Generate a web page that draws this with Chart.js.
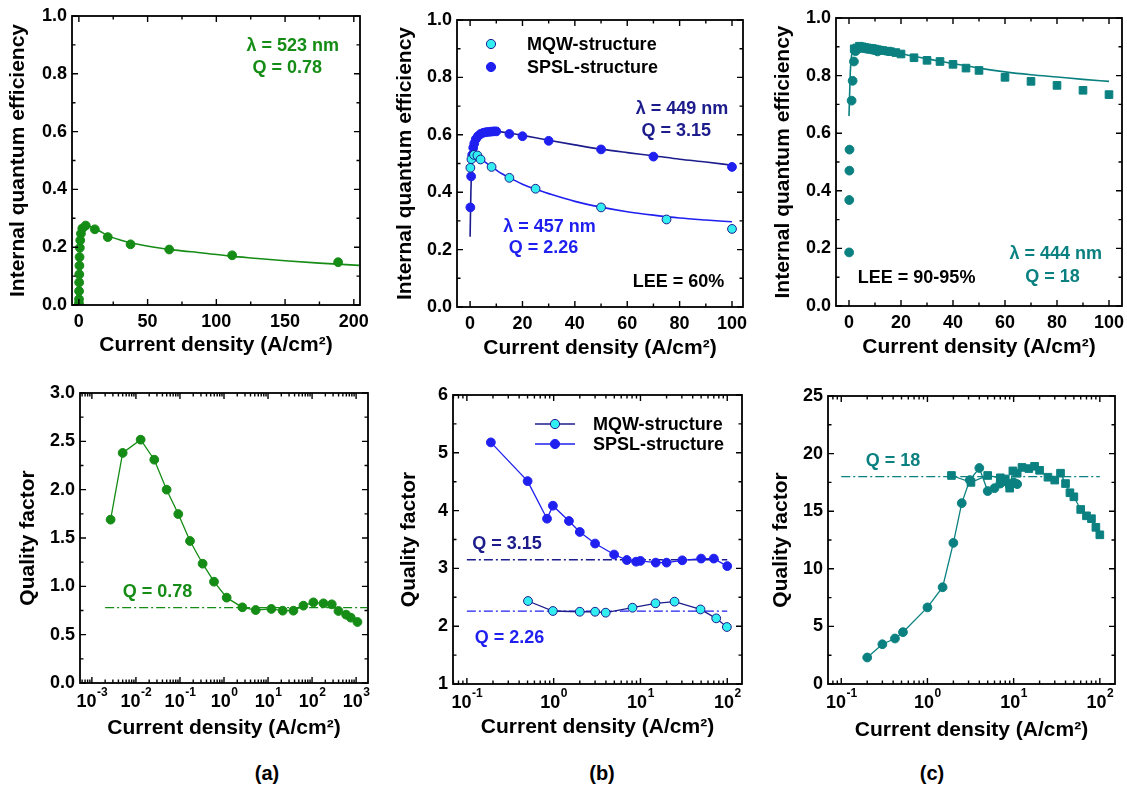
<!DOCTYPE html>
<html>
<head>
<meta charset="utf-8">
<script src="https://cdn.jsdelivr.net/npm/chart.js@4.4.1/dist/chart.umd.min.js"></script>
<style>
  body { margin: 0; background: #fff; width: 1127px; height: 788px; position: relative; overflow: hidden;
         font-family: "Liberation Sans", Arial, sans-serif; }
  canvas { position: absolute; }
  .lab { position: absolute; font-weight: bold; font-size: 20px; transform: translate(-50%, -50%); }
</style>
</head>
<body>
<canvas id="c1"></canvas>
<canvas id="c2"></canvas>
<canvas id="c3"></canvas>
<canvas id="c4"></canvas>
<canvas id="c5"></canvas>
<canvas id="c6"></canvas>
<div class="lab" style="left:267px;top:773px">(a)</div>
<div class="lab" style="left:602px;top:773px">(b)</div>
<div class="lab" style="left:932px;top:773px">(c)</div>
<script>
const FONT = '"Liberation Sans", Arial, sans-serif';
const GREEN = '#158c15', TEAL = '#0b8080', NAVY = '#1c1c8c', BLUE = '#1f1ff0', CYAN = '#33eef0';
const TITLE_PX = 21, TICK_PX = 18, NOTE_PX = 18;

// ---- (a) top: IQE vs J, 523 nm
const aIqeTicksX = [0, 50, 100, 150, 200];
const iqeTicksY = [0, 0.2, 0.4, 0.6, 0.8, 1.0];
const aIqePts = [[0.05,0.006],[0.1,0.02],[0.15,0.048],[0.2,0.078],[0.3,0.106],[0.4,0.136],[0.5,0.166],
  [0.7,0.198],[1.0,0.224],[1.5,0.247],[2.5,0.265],[5,0.275],[11.6,0.262],[21,0.235],[37.6,0.21],
  [65.7,0.192],[111.5,0.172],[188.6,0.148]];
const aIqeFit = [[0,0],[0.5,0.15],[1,0.22],[2,0.255],[3.5,0.27],[6,0.274],[10,0.268],[15,0.256],[21,0.24],
  [30,0.225],[40,0.213],[55,0.2],[70,0.19],[90,0.18],[110,0.169],[130,0.161],[150,0.153],[175,0.145],[204,0.137]];

// ---- (b) top: IQE, MQW vs SPSL
const bIqeTicksX = [0, 20, 40, 60, 80, 100];
const bMqwPts = [[0.1,0.485],[0.5,0.515],[1.5,0.53],[2.8,0.528],[4,0.514],[8.2,0.488],[15,0.45],[25,0.412],
  [50,0.347],[75,0.305],[100,0.272]];
const bSpslPts = [[0.1,0.347],[0.4,0.455],[0.8,0.53],[1.2,0.555],[1.6,0.57],[2.2,0.585],[3,0.595],[4,0.603],
  [5,0.607],[6,0.609],[7,0.61],[8,0.611],[9,0.612],[10,0.612],[15,0.603],[20,0.595],[30,0.579],[50,0.549],
  [70,0.524],[100,0.488]];
const bSpslFit = [[0,0.245],[0.3,0.4],[0.7,0.5],[1.2,0.55],[2,0.58],[3.5,0.6],[6,0.61],[10,0.612],[15,0.606],
  [20,0.598],[30,0.581],[40,0.565],[50,0.55],[60,0.538],[70,0.527],[80,0.515],[90,0.505],[100,0.494]];
const bMqwFit = [[0.2,0.47],[0.6,0.515],[1.5,0.53],[3,0.525],[5,0.51],[8,0.49],[12,0.465],[16,0.446],[20,0.428],
  [25,0.41],[30,0.395],[40,0.368],[50,0.348],[60,0.332],[70,0.32],[80,0.31],[90,0.303],[100,0.297]];

// ---- (c) top: IQE, 444 nm
const cCircPts = [[0.05,0.186],[0.1,0.368],[0.15,0.47],[0.2,0.543],[1.0,0.713],[1.4,0.782],[1.9,0.849],
  [2.5,0.885],[3.5,0.893],[5,0.896],[6,0.895],[7,0.893],[8,0.892],[9,0.89],[10,0.888],[11,0.884]];
const cSqPts = [[2,0.893],[3,0.896],[4,0.902],[5,0.9],[6,0.898],[7,0.896],[8,0.895],[9,0.894],[10,0.892],
  [11,0.89],[12,0.888],[13,0.887],[15,0.885],[16,0.883],[18,0.88],[20,0.875],[25,0.862],[30,0.853],[35,0.849],
  [40,0.839],[45,0.826],[50,0.818],[60,0.794],[70,0.78],[80,0.766],[90,0.749],[100,0.734]];
const cFit = [[0,0.66],[0.5,0.81],[1,0.87],[2,0.893],[4,0.9],[8,0.897],[12,0.89],[20,0.876],[30,0.858],
  [40,0.842],[50,0.826],[60,0.813],[70,0.803],[80,0.795],[90,0.787],[100,0.78]];

// ---- (a) bottom: quality factor
const aQTicksX = [1e-3, 1e-2, 1e-1, 1, 10, 100, 1000];
const aQTicksY = [0, 0.5, 1.0, 1.5, 2.0, 2.5, 3.0];
const aQPts = [[0.00266,1.69],[0.005,2.38],[0.0128,2.517],[0.0261,2.31],[0.0498,2.0],[0.0916,1.748],
  [0.169,1.469],[0.327,1.234],[0.593,1.048],[1.15,0.883],[2.61,0.783],[5.24,0.755],[11.9,0.766],[21.5,0.748],
  [37.7,0.748],[63.5,0.8],[107,0.834],[181,0.824],[280,0.814],[397,0.745],[593,0.707],[757,0.676],[1072,0.631]];
const aQLevel = 0.78, aQSpan = [0.002, 1800];

// ---- (b) bottom
const bcQTicksX = [0.1, 1, 10, 100];
const bQTicksY = [1, 2, 3, 4, 5, 6];
const bQSpsl = [[0.189,5.18],[0.501,4.51],[0.838,3.86],[0.98,4.085],[1.5,3.82],[2.0,3.63],[3.0,3.43],
  [4.97,3.24],[6.96,3.145],[8.9,3.116],[10,3.13],[15,3.1],[20,3.1],[30.3,3.14],[50,3.17],[70,3.17],[100,3.04]];
const bQMqw = [[0.506,2.436],[0.98,2.263],[2.0,2.25],[3.0,2.25],[3.98,2.234],[8.09,2.32],[14.9,2.396],
  [24.7,2.425],[49.2,2.29],[74.6,2.136],[99,1.986]];
const bQSpslLevel = 3.15, bQMqwLevel = 2.26, bcQSpan = [0.1, 100];

// ---- (c) bottom
const cQTicksY = [0, 5, 10, 15, 20, 25];
const cQCirc = [[0.2,2.3],[0.3,3.45],[0.42,3.95],[0.52,4.5],[1.0,6.65],[1.5,8.4],[2.0,12.25],[2.5,15.7],
  [3.1,17.7],[4.0,18.75],[5.0,16.75],[6.0,17.0],[7.0,17.4],[8.0,17.6],[9.0,17.2],[10,17.5],[11,17.35]];
const cQSq = [[1.9,18.1],[3.2,17.5],[5.0,18.1],[7.0,17.9],[8.0,17.8],[9.0,17.0],[9.8,18.5],[11,18.3],
  [12.5,18.8],[15,18.7],[17.5,18.9],[20,18.55],[25,17.95],[30,17.7],[35,18.3],[40,17.4],[45,16.6],[50,16.25],
  [60,15.15],[70,14.6],[80,14.35],[90,13.6],[100,12.95]];
const cQLevel = 18;

const xy = a => a.map(([x, y]) => ({x, y}));
const marks = (d, fill, stroke, style, r) => ({data: xy(d), showLine: false, pointStyle: style || 'circle',
  pointRadius: r || 4.4, pointBackgroundColor: fill, pointBorderColor: stroke || fill, pointBorderWidth: 1});
const curve = (d, c) => ({data: xy(d), showLine: true, pointRadius: 0, borderColor: c, borderWidth: 1.6,
  cubicInterpolationMode: 'monotone'});
const linked = (d, fill, stroke, line, style, r) => Object.assign(marks(d, fill, stroke, style, r),
  {showLine: true, borderColor: line, borderWidth: 1.3});
const level = (q, span, c) => ({data: [{x: span[0], y: q}, {x: span[1], y: q}], showLine: true, pointRadius: 0,
  borderColor: c, borderWidth: 1.4, borderDash: [9, 3, 2, 3]});

const IQE = 'Internal quantum efficiency', QF = 'Quality factor', JX = 'Current density (A/cm²)';

const panels = [
  {id: 'c1', L: 72, R: 360, T: 16, B: 305, xMin: -5, xMax: 204.5, yMin: 0, yMax: 1,
   xTicks: aIqeTicksX, yTicks: iqeTicksY, yDec: 1, yTitle: IQE, yTitleX: 21, xTitleY: 345,
   datasets: [marks(aIqePts, GREEN), curve(aIqeFit, GREEN)],
   notes: [{t: 'λ = 523 nm', x: 155.6, y: 0.896, c: GREEN}, {t: 'Q = 0.78', x: 151.6, y: 0.819, c: GREEN}]},
  {id: 'c2', L: 457, R: 743, T: 20, B: 307, xMin: -5, xMax: 104.2, yMin: 0, yMax: 1,
   xTicks: bIqeTicksX, yTicks: iqeTicksY, yDec: 1, yTitle: IQE, yTitleX: 23, xTitleY: 348,
   datasets: [marks(bMqwPts, CYAN, NAVY), marks(bSpslPts, BLUE), curve(bSpslFit, NAVY), curve(bMqwFit, BLUE)],
   notes: [{t: 'λ = 449 nm', x: 80.9, y: 0.689, c: NAVY}, {t: 'Q = 3.15', x: 78.7, y: 0.613, c: NAVY},
           {t: 'λ = 457 nm', x: 30.3, y: 0.28, c: BLUE}, {t: 'Q = 2.26', x: 28, y: 0.2045, c: BLUE},
           {t: 'LEE = 60%', x: 79.6, y: 0.088, c: '#000'}],
   legend: {mx: 34, ys: [24, 47], tx: 70, line: false,
            items: [{t: 'MQW-structure', f: CYAN, s: NAVY}, {t: 'SPSL-structure', f: BLUE, s: BLUE}]}},
  {id: 'c3', L: 836, R: 1122, T: 18, B: 306, xMin: -5, xMax: 105, yMin: 0, yMax: 1,
   xTicks: bIqeTicksX, yTicks: iqeTicksY, yDec: 1, yTitle: IQE, yTitleX: 22, xTitleY: 347,
   datasets: [marks(cCircPts, TEAL), marks(cSqPts, TEAL, TEAL, 'rect', 5.4), curve(cFit, TEAL)],
   notes: [{t: 'λ = 444 nm', x: 79.5, y: 0.18, c: TEAL}, {t: 'Q = 18', x: 78.3, y: 0.102, c: TEAL},
           {t: 'LEE = 90-95%', x: 26, y: 0.098, c: '#000'}]},
  {id: 'c4', L: 80, R: 368, T: 393, B: 683, log: true, xMin: 5.37e-4, xMax: 1862, yMin: 0, yMax: 3,
   xTicks: aQTicksX, yTicks: aQTicksY, yDec: 1, yTitle: QF, yTitleX: 23, xTitleY: 728,
   datasets: [linked(aQPts, GREEN, GREEN, GREEN), level(aQLevel, aQSpan, GREEN)],
   notes: [{t: 'Q = 0.78', x: 0.0308, y: 0.941, c: GREEN}]},
  {id: 'c5', L: 453, R: 742, T: 395, B: 684, log: true, xMin: 0.0692, xMax: 147.9, yMin: 1, yMax: 6,
   xTicks: bcQTicksX, yTicks: bQTicksY, yDec: 0, yTitle: QF, yTitleX: 409 - 453 + 75, xTitleY: 727,
   datasets: [linked(bQMqw, CYAN, NAVY, NAVY), linked(bQSpsl, BLUE, BLUE, BLUE),
              level(bQSpslLevel, bcQSpan, NAVY), level(bQMqwLevel, bcQSpan, BLUE)],
   notes: [{t: 'Q = 3.15', x: 0.29, y: 3.417, c: NAVY}, {t: 'Q = 2.26', x: 0.31, y: 1.79, c: BLUE}],
   legend: {mx: 102, ys: [29, 49], tx: 140, line: true,
            items: [{t: 'MQW-structure', f: CYAN, s: NAVY, l: NAVY}, {t: 'SPSL-structure', f: BLUE, s: BLUE, l: BLUE}]}},
  {id: 'c6', L: 828, R: 1115, T: 396, B: 684, log: true, xMin: 0.0702, xMax: 150, yMin: 0, yMax: 25,
   xTicks: bcQTicksX, yTicks: cQTicksY, yDec: 0, yTitle: QF, yTitleX: 781 - 828 + 75, xTitleY: 730,
   datasets: [linked(cQCirc, TEAL, TEAL, TEAL), linked(cQSq, TEAL, TEAL, TEAL, 'rect', 5.4),
              level(cQLevel, bcQSpan, TEAL)],
   notes: [{t: 'Q = 18', x: 0.398, y: 19.38, c: TEAL}]}
];
const byId = {};
panels.forEach(p => byId[p.id] = p);

function minorVals(p, axis) {
  const s = axis === 'x' ? {lo: p.xMin, hi: p.xMax, t: p.xTicks} : {lo: p.yMin, hi: p.yMax, t: p.yTicks};
  const out = [];
  if (axis === 'x' && p.log) {
    for (let e = Math.floor(Math.log10(s.lo)); e <= Math.ceil(Math.log10(s.hi)); e++)
      for (let m = 2; m <= 9; m++) { const v = m * Math.pow(10, e); if (v >= s.lo && v <= s.hi) out.push(v); }
  } else {
    const st = s.t[1] - s.t[0];
    for (let v = s.t[0] - st / 2; v <= s.hi + 1e-9; v += st) if (v >= s.lo - 1e-9) out.push(v);
  }
  return out;
}

const framePlugin = {
  id: 'frame',
  afterDraw(chart) {
    const p = byId[chart.canvas.id];
    const {ctx, chartArea: a, scales: {x, y}} = chart;
    ctx.save();
    ctx.strokeStyle = '#000';
    ctx.lineWidth = 1.4;
    const tick = (isX, v, len) => {
      const q = (isX ? x : y).getPixelForValue(v);
      ctx.beginPath();
      if (isX) {
        if (q < a.left - 0.5 || q > a.right + 0.5) return;
        ctx.moveTo(q, a.bottom); ctx.lineTo(q, a.bottom - len);
        ctx.moveTo(q, a.top); ctx.lineTo(q, a.top + len);
      } else {
        if (q > a.bottom + 0.5 || q < a.top - 0.5) return;
        ctx.moveTo(a.left, q); ctx.lineTo(a.left + len, q);
        ctx.moveTo(a.right, q); ctx.lineTo(a.right - len, q);
      }
      ctx.stroke();
    };
    p.xTicks.forEach(v => tick(true, v, 6));
    p.yTicks.forEach(v => tick(false, v, 6));
    minorVals(p, 'x').forEach(v => tick(true, v, 3.5));
    minorVals(p, 'y').forEach(v => tick(false, v, 3.5));
    ctx.lineWidth = 1.8;
    ctx.strokeRect(a.left, a.top, a.right - a.left, a.bottom - a.top);

    // log tick labels: 10 with superscript exponent
    if (p.log) {
      ctx.fillStyle = '#000';
      ctx.textBaseline = 'middle';
      ctx.textAlign = 'left';
      p.xTicks.forEach(v => {
        const q = x.getPixelForValue(v);
        const e = String(Math.round(Math.log10(v)));
        ctx.font = 'bold 18px ' + FONT;
        const w1 = ctx.measureText('10').width;
        ctx.font = 'bold 12px ' + FONT;
        const w2 = ctx.measureText(e).width;
        const x0 = q - (w1 + w2) / 2;
        ctx.font = 'bold 18px ' + FONT;
        ctx.fillText('10', x0, a.bottom + 19);
        ctx.font = 'bold 12px ' + FONT;
        ctx.fillText(e, x0 + w1 + 0.5, a.bottom + 10);
      });
    }

    // annotations
    ctx.font = 'bold ' + NOTE_PX + 'px ' + FONT;
    ctx.textAlign = 'center';
    ctx.textBaseline = 'middle';
    (p.notes || []).forEach(n => {
      ctx.fillStyle = n.c;
      ctx.fillText(n.t, x.getPixelForValue(n.x), y.getPixelForValue(n.y));
    });

    // legend
    if (p.legend) {
      const lg = p.legend;
      lg.items.forEach((it, i) => {
        const mx = a.left + lg.mx, my = a.top + lg.ys[i];
        if (lg.line) {
          ctx.strokeStyle = it.l; ctx.lineWidth = 1.3;
          ctx.beginPath(); ctx.moveTo(mx - 20, my); ctx.lineTo(mx + 20, my); ctx.stroke();
        }
        ctx.beginPath(); ctx.arc(mx, my, 4.6, 0, Math.PI * 2);
        ctx.fillStyle = it.f; ctx.fill();
        ctx.strokeStyle = it.s; ctx.lineWidth = 1; ctx.stroke();
        ctx.fillStyle = '#000'; ctx.textAlign = 'left';
        ctx.fillText(it.t, a.left + lg.tx, my + 1);
      });
    }
    ctx.restore();
  }
};

function makePanel(p) {
  const cv = document.getElementById(p.id);
  const cl = p.L - 75, ct = p.T - 20;
  cv.width = p.R - p.L + 100;
  cv.height = p.B - p.T + 90;
  cv.style.left = cl + 'px';
  cv.style.top = ct + 'px';
  const half = TITLE_PX * 1.2 / 2;
  const titleFont = {family: FONT, size: TITLE_PX, weight: 'bold'};
  const tickFont = {family: FONT, size: TICK_PX, weight: 'bold'};
  const setTicks = arr => s => { s.ticks = arr.map(v => ({value: v})); };
  new Chart(cv, {
    type: 'scatter',
    data: {datasets: p.datasets},
    options: {
      responsive: false, animation: false, events: [],
      layout: {padding: {left: 0, top: 20, right: 25, bottom: 0}},
      plugins: {legend: {display: false}, tooltip: {enabled: false}},
      scales: {
        x: {
          type: p.log ? 'logarithmic' : 'linear', min: p.xMin, max: p.xMax,
          grid: {display: false, drawTicks: false}, border: {display: false},
          ticks: {display: !p.log, font: tickFont, color: '#000', padding: 6, autoSkip: false, maxRotation: 0,
                  callback: v => String(v)},
          afterBuildTicks: setTicks(p.xTicks),
          afterFit: s => { s.height = 70; },
          title: {display: true, text: JX, font: titleFont, color: '#000',
                  padding: {top: 0, bottom: (p.B + 70 - p.xTitleY) - half}}
        },
        y: {
          min: p.yMin, max: p.yMax,
          grid: {display: false, drawTicks: false}, border: {display: false},
          ticks: {font: tickFont, color: '#000', padding: 5, autoSkip: false, callback: v => v.toFixed(p.yDec)},
          afterBuildTicks: setTicks(p.yTicks),
          afterFit: s => { s.width = 75; },
          title: {display: true, text: p.yTitle, font: titleFont, color: '#000',
                  padding: {top: p.yTitleX - half, bottom: 0}}
        }
      }
    },
    plugins: [framePlugin]
  });
}
panels.forEach(makePanel);
</script>
</body>
</html>
